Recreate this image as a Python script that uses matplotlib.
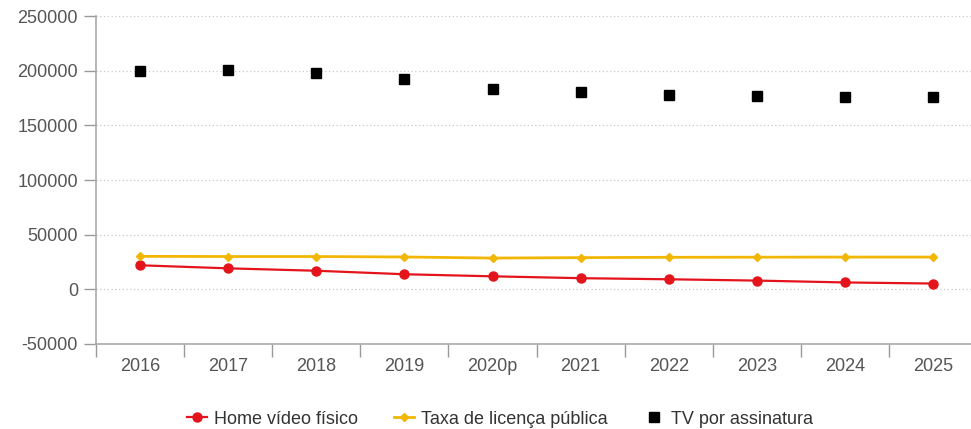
import matplotlib
matplotlib.use("Agg")
import matplotlib.pyplot as plt
from matplotlib.ticker import FixedLocator, NullFormatter, FixedFormatter

plt.rcParams['font.family'] = ['Liberation Sans', 'DejaVu Sans']

years = ["2016", "2017", "2018", "2019", "2020p", "2021", "2022", "2023", "2024", "2025"]
home_video = [22000, 19200, 17000, 13800, 11900, 10200, 9200, 8000, 6300, 5300]
taxa_licenca = [30200, 30000, 30000, 29600, 28600, 29000, 29300, 29400, 29500, 29500]
tv_assinatura = [199500, 200500, 197500, 192500, 183200, 180400, 177800, 176700, 175900, 176000]
y_ticks = [-50000, 0, 50000, 100000, 150000, 200000, 250000]

fig = plt.figure(figsize=(9.71, 4.29), dpi=100)
ax = fig.add_axes([96/971, 1-344/429, 1-96/971, (344-16)/429])

x = list(range(len(years)))
ax.plot(x, home_video, color="#e3141b", marker="o", markersize=6.5, linewidth=1.6,
        label="Home vídeo físico", zorder=3)
ax.plot(x, taxa_licenca, color="#f2b705", marker="D", markersize=4.5, linewidth=2.0,
        label="Taxa de licença pública", zorder=3)
ax.plot(x, tv_assinatura, color="black", marker="s", markersize=7.5, linestyle="none",
        label="TV por assinatura", zorder=3)

ax.set_ylim(-50000, 250000)
ax.set_xlim(-0.5, 9.43)
ax.set_yticks(y_ticks)
ax.set_yticklabels([str(v) for v in y_ticks])
ax.yaxis.grid(True, linestyle=(0, (1, 2)), color="#c8c8c8", linewidth=0.9)
ax.set_axisbelow(True)

ax.xaxis.set_major_locator(FixedLocator([i - 0.5 for i in range(len(years))]))
ax.xaxis.set_major_formatter(NullFormatter())
ax.xaxis.set_minor_locator(FixedLocator(x))
ax.xaxis.set_minor_formatter(FixedFormatter(years))
ax.tick_params(axis="x", which="major", length=9, color="#999999", width=1)
ax.tick_params(axis="x", which="minor", length=0, labelsize=13, labelcolor="#555555", pad=10)
ax.tick_params(axis="y", length=9, color="#999999", width=1, labelsize=13, labelcolor="#555555", pad=4)

for s in ["top", "right"]:
    ax.spines[s].set_visible(False)
for s in ["left", "bottom"]:
    ax.spines[s].set_color("#aaaaaa")
    ax.spines[s].set_linewidth(1.2)

leg = fig.legend(loc="center", bbox_to_anchor=(500/971, 1-419/429), ncol=3, frameon=False,
                 fontsize=13, handlelength=1.1, handletextpad=0.4, columnspacing=2.0)
for t in leg.get_texts():
    t.set_color("#333333")

fig.savefig("out.png", dpi=100)
